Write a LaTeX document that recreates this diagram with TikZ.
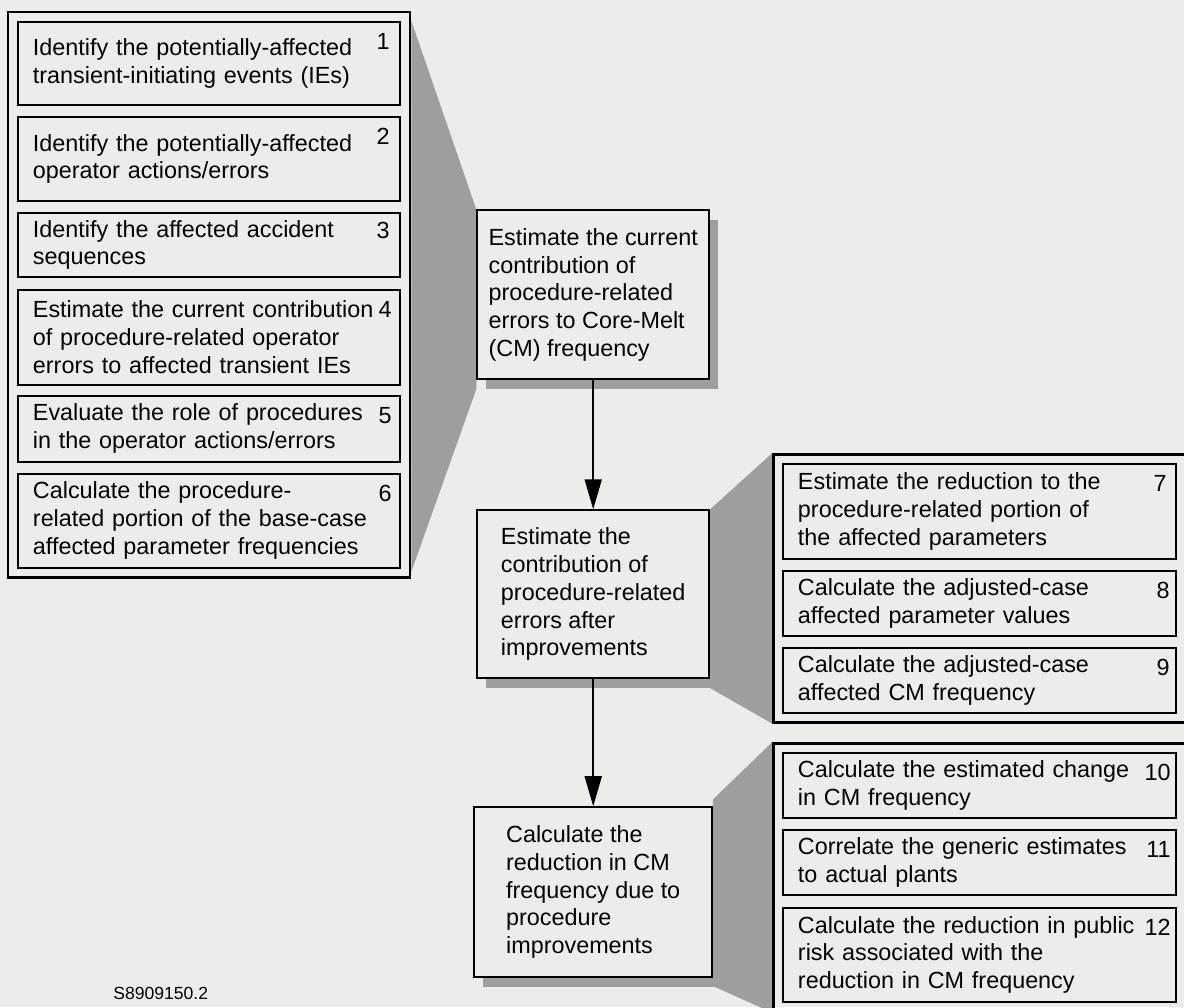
\documentclass[tikz,border=0pt]{standalone}
\usepackage{fontspec}
\setmainfont{Liberation Sans}
\usetikzlibrary{positioning,arrows.meta,fit,shadows,backgrounds}
\definecolor{paper}{RGB}{236,236,232}
\definecolor{slab}{RGB}{158,158,155}
\newcommand{\bodyfont}{\fontsize{13.3}{15.8}\selectfont}

\begin{document}
\begin{tikzpicture}[
  node distance=2mm,
  task/.style={draw,line width=1.1pt,fill=paper,inner xsep=3mm,inner ysep=0pt,text width=7.04cm,align=left,font=\bodyfont},
  rtask/.style={task,text width=7.26cm},
  group/.style={draw,line width=1.5pt,inner sep=0.18cm},
  stage/.style={draw,line width=1.1pt,fill=paper,align=left,minimum width=4.64cm,font=\bodyfont,
    drop shadow={shadow xshift=0.18cm,shadow yshift=-0.2cm,fill=slab,opacity=1}},
  num/.style={inner sep=0pt,font=\bodyfont},
  flow/.style={line width=1.1pt,-{Triangle[length=0.6cm,width=0.34cm]}},
]
\begin{scope}[on background layer]
  \fill[paper] (0,0) rectangle (23.68,-20.14);
\end{scope}
\useasboundingbox (0,0) rectangle (23.68,-20.14);

% left column of steps 1-6
\node[task,minimum height=1.66cm,anchor=north west] (b1) at (0.34,-0.42)
  {Identify the potentially-affected\\transient-initiating events (IEs)};
\node[task,minimum height=1.68cm,below=of b1] (b2)
  {Identify the potentially-affected\\operator actions/errors};
\node[task,minimum height=1.28cm,below=of b2] (b3)
  {Identify the affected accident\\sequences};
\node[task,minimum height=1.9cm,below=2.2mm of b3] (b4)
  {Estimate the current contribution\\of procedure-related operator\\errors to affected transient IEs};
\node[task,minimum height=1.32cm,below=1.8mm of b4] (b5)
  {Evaluate the role of procedures\\in the operator actions/errors};
\node[task,minimum height=1.88cm,below=of b5] (b6)
  {Calculate the procedure-\\related portion of the base-case\\affected parameter frequencies};
\node[group,fit=(b1)(b6)] (steps) {};

% main flow
\node[stage,minimum height=3.38cm,right=1.3cm of steps] (cur)
  {Estimate the current\\contribution of\\procedure-related\\errors to Core-Melt\\(CM) frequency};
\node[stage,minimum height=3.36cm,below=2.58cm of cur] (aft)
  {Estimate the\\contribution of\\procedure-related\\errors after\\improvements};
\node[stage,minimum width=4.76cm,minimum height=3.4cm,below=2.54cm of aft] (red)
  {Calculate the\\reduction in CM\\frequency due to\\procedure\\improvements};
\draw[flow] (cur.south) -- (cur.south |- aft.north);
\draw[flow] (aft.south) -- (aft.south |- red.north);

% steps 7-9
\node[rtask,minimum height=1.9cm,anchor=north west] (b7) at (15.64,-9.26)
  {Estimate the reduction to the\\procedure-related portion of\\the affected parameters};
\node[rtask,minimum height=1.3cm,below=of b7] (b8)
  {Calculate the adjusted-case\\affected parameter values};
\node[rtask,minimum height=1.3cm,below=of b8] (b9)
  {Calculate the adjusted-case\\affected CM frequency};
\node[group,inner sep=0.17cm,fit=(b7)(b9)] (adj) {};

% steps 10-12
\node[rtask,minimum height=1.3cm,anchor=north west] (b10) at (15.64,-15.04)
  {Calculate the estimated change\\in CM frequency};
\node[rtask,minimum height=1.3cm,below=of b10] (b11)
  {Correlate the generic estimates\\to actual plants};
\node[rtask,minimum height=1.88cm,below=2.2mm of b11] (b12)
  {Calculate the reduction in public\\risk associated with the\\reduction in CM frequency};
\node[group,inner sep=0.17cm,fit=(b10)(b12)] (risk) {};

% step numbers
\node[num,anchor=north east] (n1) at ([shift={(-0.22,-0.24)}]b1.north east) {1};
\node[num,anchor=north east] (n2) at ([shift={(-0.22,-0.24)}]b2.north east) {2};
\node[num,anchor=north east] (n3) at ([shift={(-0.22,-0.2)}]b3.north east) {3};
\node[num,anchor=north east] (n4) at ([shift={(-0.18,-0.24)}]b4.north east) {4};
\node[num,anchor=north east] (n5) at ([shift={(-0.18,-0.24)}]b5.north east) {5};
\node[num,anchor=north east] (n6) at ([shift={(-0.18,-0.24)}]b6.north east) {6};
\node[num,anchor=north east] (n7) at ([shift={(-0.2,-0.24)}]b7.north east) {7};
\node[num,anchor=north east] (n8) at ([shift={(-0.14,-0.24)}]b8.north east) {8};
\node[num,anchor=north east] (n9) at ([shift={(-0.14,-0.24)}]b9.north east) {9};
\node[num,anchor=north east] (n10) at ([shift={(-0.12,-0.24)}]b10.north east) {10};
\node[num,anchor=north east] (n11) at ([shift={(-0.12,-0.24)}]b11.north east) {11};
\node[num,anchor=north east] (n12) at ([shift={(-0.12,-0.24)}]b12.north east) {12};

\node[font=\fontsize{10}{12}\selectfont,anchor=west,inner sep=0pt] (tag) at (2.26,-19.86) {S8909150.2};

% grey projections behind the boxes
\begin{scope}[on background layer]
  \fill[slab] ([yshift=-2mm]steps.north east) -- (cur.north west)
    -- ([yshift=-1.8mm]cur.south west) -- ([yshift=1.4mm]steps.south east) -- cycle;
  \fill[slab] (aft.north east) -- (adj.north west)
    -- (adj.south west) -- ([yshift=-1.8mm]aft.south east) -- cycle;
  \fill[slab] ([yshift=1.4mm]red.north east) -- (risk.north west)
    -- (risk.south west) -- ([yshift=-1.6mm]red.south east) -- cycle;
\end{scope}
\end{tikzpicture}
\end{document}
